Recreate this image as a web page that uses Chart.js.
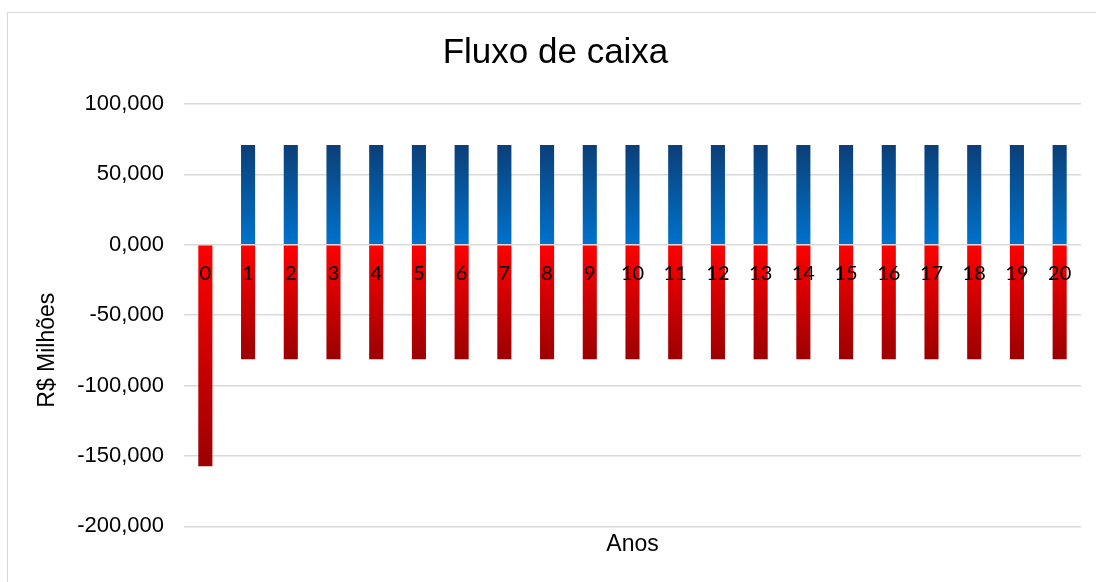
<!DOCTYPE html>
<html>
<head>
<meta charset="utf-8">
<script src="https://cdn.jsdelivr.net/npm/chart.js@4/dist/chart.umd.min.js"></script>
<style>
  html, body { margin: 0; padding: 0; background: #fff; }
  #wrap { position: relative; width: 1096px; height: 582px; overflow: hidden; }
  #frame { position: absolute; left: 7px; top: 12px; width: 1200px; height: 700px;
           border-left: 1.5px solid #d9d9d9; border-top: 1.5px solid #d9d9d9; }
  canvas { position: absolute; left: 0; top: 0; }
</style>
</head>
<body>
<div id="wrap">
  <div id="frame"></div>
  <canvas id="fluxo" width="1096" height="582"></canvas>
</div>
<script>
/* ===== DATA ===== */
const ANOS = ['0','1','2','3','4','5','6','7','8','9','10','11','12','13','14','15','16','17','18','19','20'];
// receitas (positivo) e custos/investimento (negativo), R$ milhões
const ENTRADAS = [null, 70.9, 70.9, 70.9, 70.9, 70.9, 70.9, 70.9, 70.9, 70.9, 70.9,
                  70.9, 70.9, 70.9, 70.9, 70.9, 70.9, 70.9, 70.9, 70.9, 70.9];
const SAIDAS   = [-157.2, -81.3, -81.3, -81.3, -81.3, -81.3, -81.3, -81.3, -81.3, -81.3, -81.3,
                  -81.3, -81.3, -81.3, -81.3, -81.3, -81.3, -81.3, -81.3, -81.3, -81.3];
const Y_TICKS  = [100, 50, 0, -50, -100, -150, -200];
const Y_LABELS = ['100,000', '50,000', '0,000', '-50,000', '-100,000', '-150,000', '-200,000'];
const Y_TITLE  = 'R$ Milhões';

/* ===== HELPERS ===== */
const ARIAL = '"Liberation Sans", Arial, sans-serif';

// gradient running from the zero line to the end of each bar
function barFill(top, bottom) {
  return c => {
    const {chart} = c;
    if (!chart.chartArea || c.raw == null) return top;
    const y = chart.scales.y;
    const a = y.getPixelForValue(0), b = y.getPixelForValue(c.raw);
    const g = chart.ctx.createLinearGradient(0, Math.min(a, b), 0, Math.max(a, b));
    g.addColorStop(0, top);
    g.addColorStop(1, bottom);
    return g;
  };
}

// Excel puts the value-axis title a bit below the plot's middle
const yTitle = {
  id: 'yTitle',
  afterDraw(chart) {
    const {ctx, scales: {y}} = chart;
    ctx.save();
    ctx.translate(y.left + 18, (y.top + y.bottom) / 2 + 35);
    ctx.rotate(-Math.PI / 2);
    ctx.font = '23px ' + ARIAL;
    ctx.fillStyle = '#000';
    ctx.textAlign = 'center';
    ctx.textBaseline = 'middle';
    ctx.fillText(Y_TITLE, 0, 0);
    ctx.restore();
  }
};

/* ===== CHART ===== */
new Chart(document.getElementById('fluxo'), {
  type: 'bar',
  data: {
    labels: ANOS,
    datasets: [
      {label: 'Entradas', data: ENTRADAS, backgroundColor: barFill('#0b3f78', '#0072cc')},
      {label: 'Saídas',   data: SAIDAS,   backgroundColor: barFill('#ff0000', '#9c0000')}
    ]
  },
  plugins: [yTitle],
  options: {
    responsive: false,
    animation: false,
    datasets: {bar: {categoryPercentage: 1, barPercentage: 0.33}},
    layout: {padding: {left: 30, right: 15, top: 10, bottom: 24}},
    plugins: {
      legend: {display: false},
      tooltip: {enabled: false},
      title: {
        display: true, text: 'Fluxo de caixa', color: '#000',
        font: {family: ARIAL, size: 35, weight: 'normal'},
        padding: {top: 22, bottom: 30}
      }
    },
    scales: {
      x: {
        stacked: true,
        position: {y: 0},
        grid: {display: false},
        border: {display: false},
        ticks: {z: 1, color: '#000', padding: 9, font: {family: 'Lato, "Open Sans", sans-serif', size: 20}}
      },
      x2: {
        type: 'category',
        labels: ANOS,
        position: 'bottom',
        grid: {display: false, drawTicks: false},
        border: {display: false},
        ticks: {display: false},
        title: {display: true, text: 'Anos', color: '#000',
                font: {family: ARIAL, size: 23}, padding: {top: 4, bottom: 0}}
      },
      y: {
        stacked: true,
        min: -200, max: 100,
        afterFit: s => { s.width = 154; },
        afterBuildTicks: s => { s.ticks = Y_TICKS.map(v => ({value: v})); },
        grid: {color: '#d9d9d9', lineWidth: 1.5, drawTicks: false},
        border: {display: false},
        ticks: {
          color: '#000', padding: 20,
          font: {family: ARIAL, size: 22},
          callback: v => Y_LABELS[Y_TICKS.indexOf(v)]
        }
      }
    }
  }
});
</script>
</body>
</html>
